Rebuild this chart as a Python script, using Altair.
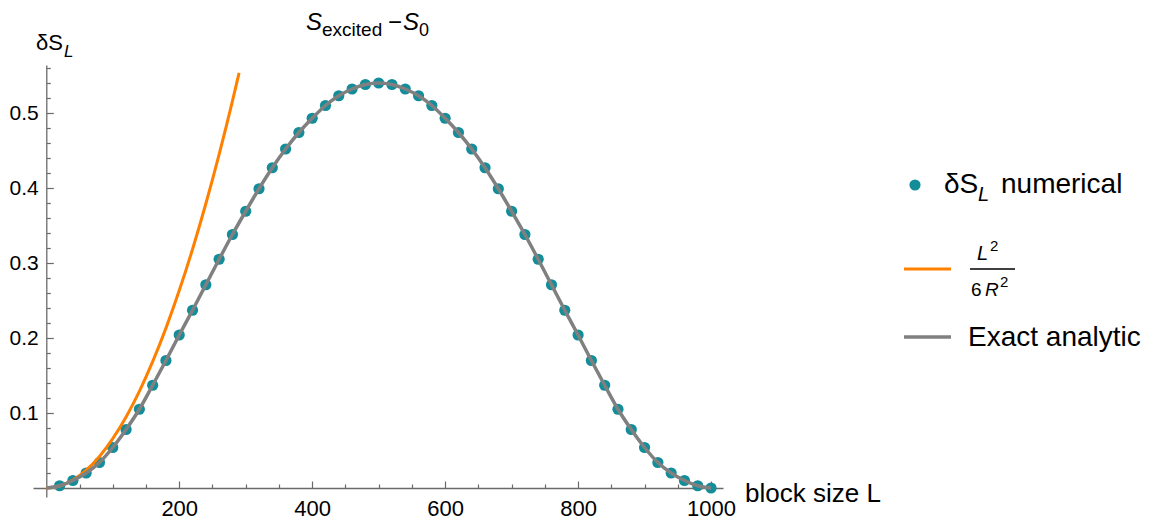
import altair as alt
import pandas as pd

# ---------------- data ----------------
L_num = [20, 40, 60, 80, 100, 120, 140, 160, 180, 200,
         220, 240, 260, 280, 300, 320, 340, 360, 380, 400,
         420, 440, 460, 480, 500, 520, 540, 560, 580, 600,
         620, 640, 660, 680, 700, 720, 740, 760, 780, 800,
         820, 840, 860, 880, 900, 920, 940, 960, 980, 1000]
dS_num = [0.003, 0.010, 0.020, 0.034, 0.054, 0.078, 0.105, 0.137, 0.170, 0.204,
          0.237, 0.271, 0.305, 0.338, 0.369, 0.399, 0.427, 0.452, 0.474, 0.493,
          0.510, 0.523, 0.532, 0.538, 0.540, 0.538, 0.532, 0.523, 0.510, 0.493,
          0.474, 0.452, 0.427, 0.399, 0.369, 0.338, 0.305, 0.271, 0.237, 0.204,
          0.170, 0.137, 0.105, 0.078, 0.054, 0.034, 0.020, 0.010, 0.003, 0.000]

L_exact = [0] + L_num
dS_exact = [0.0] + dS_num

L_approx = [0, 20, 40, 60, 80, 100, 120, 140, 160, 180, 200, 220, 240, 260, 280, 290]
dS_approx = [0.0, 0.0026, 0.0105, 0.0237, 0.0421, 0.0658, 0.0947, 0.1289,
             0.1684, 0.2132, 0.2632, 0.3184, 0.3790, 0.4448, 0.5158, 0.5534]

x_major = [200, 400, 600, 800, 1000]
x_minor = [50 * i for i in range(1, 21)]
y_major = [0.1, 0.2, 0.3, 0.4, 0.5]
y_minor = [round(0.02 * i, 2) for i in range(1, 29)]

# ---------------- layout ----------------
FONT = "Liberation Sans"
XMIN, XMAX = -20, 1018
YMIN, YMAX = -0.012, 0.564
W, H = 690, 432
OX, OY = 33, 65          # page position of plot-area origin
x0_px = W * (0 - XMIN) / (XMAX - XMIN)
y0_px = H * (YMAX - 0) / (YMAX - YMIN)

TEAL = "#128d99"
ORANGE = "#ff8000"
GRAY = "#808080"
AXC = "#6a6a6a"

xs = alt.Scale(domain=[XMIN, XMAX], nice=False, zero=False)
ys = alt.Scale(domain=[YMIN, YMAX], nice=False, zero=False)

df_num = pd.DataFrame({"L": L_num, "dS": dS_num})
df_exact = pd.DataFrame({"L": L_exact, "dS": dS_exact})
df_approx = pd.DataFrame({"L": L_approx, "dS": dS_approx})

points = alt.Chart(df_num).mark_circle(size=125, color=TEAL, opacity=1).encode(
    x=alt.X("L:Q", scale=xs, axis=alt.Axis(
        orient="bottom", offset=-(H - y0_px), values=x_major, format="d",
        ticks=False, tickSize=0, domain=False, grid=False, title=None,
        labelFont=FONT, labelFontSize=22, labelColor="black", labelPadding=10)),
    y=alt.Y("dS:Q", scale=ys, axis=alt.Axis(
        orient="left", offset=-x0_px, values=y_major, format=".1f",
        ticks=False, tickSize=0, domain=False, grid=False, title=None,
        labelFont=FONT, labelFontSize=21, labelColor="black", labelPadding=8)),
)

orange = alt.Chart(df_approx).mark_line(color=ORANGE, strokeWidth=3, interpolate="monotone").encode(
    x=alt.X("L:Q", scale=xs, axis=None),
    y=alt.Y("dS:Q", scale=ys, axis=None),
)

gray = alt.Chart(df_exact).mark_line(color=GRAY, strokeWidth=3.5, interpolate="monotone").encode(
    x=alt.X("L:Q", scale=xs, axis=alt.Axis(
        orient="top", offset=-y0_px, values=x_minor, labels=False,
        domain=True, domainColor=AXC, domainWidth=1.3,
        ticks=True, tickColor=AXC, tickWidth=1.2,
        tickSize={"condition": {"test": "datum.value % 200 === 0", "value": 7}, "value": 4},
        grid=False, title=None)),
    y=alt.Y("dS:Q", scale=ys, axis=alt.Axis(
        orient="right", offset=-(W - x0_px), values=y_minor, labels=False,
        domain=True, domainColor=AXC, domainWidth=1.3,
        ticks=True, tickColor=AXC, tickWidth=1.2,
        tickSize={"condition": {"test": "abs(datum.value*10 - round(datum.value*10)) < 0.001", "value": 7}, "value": 4},
        grid=False, title=None)),
)

one = alt.Data(values=[{"k": 1}])


def txt(s, x, y, size, style="normal", align="left"):
    return alt.Chart(one).mark_text(
        text=s, font=FONT, fontSize=size, fontStyle=style, align=align,
        baseline="alphabetic", color="black").encode(
        x=alt.value(x - OX), y=alt.value(y - OY))


def hline(x1, x2, y, color, width):
    return alt.Chart(one).mark_rule(color=color, strokeWidth=width).encode(
        x=alt.value(x1 - OX), x2=alt.value(x2 - OX), y=alt.value(y - OY))


texts = [
    # title S_excited - S_0
    txt("S", 306, 30, 24, "italic"),
    txt("excited", 322, 36, 19),
    txt("\u2212", 388, 30, 24),
    txt("S", 403, 30, 24, "italic"),
    txt("0", 419, 36, 18),
    # y axis title
    txt("\u03b4S", 36, 50, 22),
    txt("L", 64, 57, 17, "italic"),
    # x axis title
    txt("block size L", 745, 502, 26),
    # legend
    txt("\u03b4S", 944, 193, 28),
    txt("L", 978, 201, 20, "italic"),
    txt("numerical", 1001, 193, 28),
    txt("L", 977, 260, 20, "italic"),
    txt("2", 990, 251, 15),
    txt("6", 971, 296, 19),
    txt("R", 985, 296, 19, "italic"),
    txt("2", 1000, 287, 15),
    txt("Exact analytic", 968, 346, 28),
]

legend_marks = [
    alt.Chart(one).mark_circle(size=125, color=TEAL, opacity=1).encode(
        x=alt.value(915 - OX), y=alt.value(185 - OY)),
    hline(904, 951, 269, ORANGE, 3),
    hline(970, 1015, 269, "black", 1.5),
    hline(904, 951, 337, GRAY, 3.5),
]

chart = alt.layer(points, orange, gray, *texts, *legend_marks).resolve_axis(
    x="independent", y="independent"
).properties(
    width=W, height=H,
    padding={"left": OX - 8, "top": OY - 8, "right": 420, "bottom": 24},
    autosize=alt.AutoSizeParams(type="none"),
    background="white",
).configure_view(stroke=None)

chart.save("out.html", embed_options={"renderer": "svg", "actions": False})
